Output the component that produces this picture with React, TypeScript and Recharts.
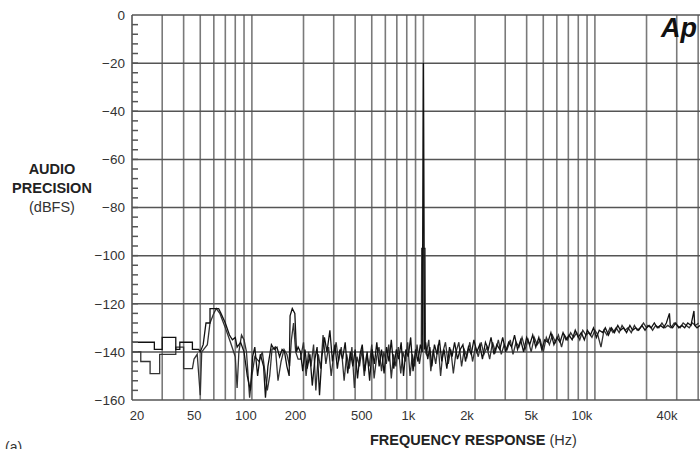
import { Line, LineChart, ReferenceLine, XAxis, YAxis } from "recharts";

// channel traces as [frequency Hz, level dBFS]
const lowA: [number, number][] = [
  [20, -136], [27, -136], [27, -139], [30, -139], [30, -134], [36, -134], [36, -139], [38, -139],
  [38, -136], [45, -136], [45, -139], [49, -139], [50, -140], [52, -137], [54, -128], [57, -128],
  [57, -122], [64, -122], [66, -124], [70, -128], [74, -133], [77, -135], [80, -134], [82, -138],
  [86, -136], [90, -140], [94, -150], [98, -156], [101, -142], [104, -138], [108, -150], [112, -141],
  [117, -146], [120, -159], [124, -146], [130, -137], [135, -139], [140, -138], [145, -142], [150, -139],
  [155, -140], [160, -146], [165, -150], [167, -125], [172, -122], [178, -124], [182, -140], [186, -138],
];

const midA: [number, number][] = [
  [192, -140], [198, -148], [204, -139], [210, -147], [218, -141], [225, -154], [233, -143], [240, -138],
  [248, -158], [256, -142], [265, -134], [274, -140], [285, -131], [295, -144], [305, -137], [315, -147],
  [326, -139], [338, -143], [350, -136], [362, -149], [375, -140], [388, -146], [400, -139], [413, -151],
  [427, -141], [440, -137], [455, -148], [470, -140], [486, -152], [502, -139], [518, -145], [535, -136],
  [552, -146], [570, -139], [590, -149], [610, -138], [630, -144], [650, -135], [672, -147], [695, -139],
  [718, -143], [742, -136], [766, -150], [790, -139], [816, -142], [843, -134], [870, -148], [900, -139],
  [930, -144], [960, -137], [985, -140], [995, -60], [1000, -20], [1005, -60], [1015, -139],
];

const highA: [number, number][] = [
  [1030, -136], [1060, -143], [1090, -138], [1120, -146], [1160, -137], [1200, -141], [1240, -135],
  [1280, -144], [1320, -139], [1370, -147], [1420, -138], [1470, -142], [1520, -136], [1580, -143],
  [1640, -139], [1700, -137], [1760, -144], [1830, -138], [1900, -141], [1970, -135], [2050, -140],
  [2130, -137], [2210, -143], [2300, -136], [2390, -139], [2480, -134], [2580, -141], [2680, -137],
  [2790, -139], [2900, -134], [3020, -140], [3140, -136], [3270, -138], [3400, -133], [3540, -139],
  [3690, -135], [3840, -140], [4000, -134], [4170, -137], [4340, -133], [4520, -138], [4710, -134],
  [4900, -139], [5100, -135], [5320, -136], [5540, -132], [5770, -137], [6010, -134], [6260, -136],
  [6520, -132], [6790, -135], [7070, -133], [7370, -135], [7680, -131], [8000, -134], [8330, -132],
  [8680, -135], [9040, -131], [9420, -133], [9810, -130], [10200, -134], [10600, -131], [11100, -132],
  [11500, -130], [12000, -133], [12500, -130], [13000, -132], [13600, -129], [14100, -131], [14700, -130],
  [15300, -132], [16000, -129], [16600, -131], [17300, -130], [18000, -131], [18800, -129], [19600, -131],
  [20400, -129], [21300, -130], [22200, -128], [23100, -130], [24100, -129], [25100, -130], [26100, -128],
  [27200, -124], [27500, -129], [28400, -130], [29600, -128], [30800, -130], [32100, -129], [33400, -130],
  [34800, -128], [36300, -129], [37800, -123], [38200, -129], [39400, -130], [41000, -129],
];

const lowB: [number, number][] = [
  [20, -140], [22.5, -140], [22.5, -144], [25.5, -144], [25.5, -149], [29, -149], [29, -141], [36, -141],
  [36, -138], [40, -138], [40, -147], [45, -147], [46, -143], [48, -141], [50, -158], [51, -140],
  [55, -137], [57, -128], [60, -124], [62, -122], [65, -124], [70, -130], [75, -136], [80, -142],
  [82, -155], [84, -140], [87, -133], [90, -135], [93, -140], [97, -159], [100, -150], [104, -142],
  [110, -144], [115, -140], [119, -148], [123, -156], [127, -150], [131, -139], [137, -138], [142, -152],
  [148, -144], [154, -139], [160, -141], [166, -146], [170, -135], [175, -128], [180, -140], [186, -143],
];

const midB: [number, number][] = [
  [192, -143], [200, -136], [207, -150], [214, -140], [221, -146], [229, -137], [236, -156], [244, -141],
  [252, -147], [260, -133], [270, -145], [280, -138], [290, -150], [300, -141], [310, -136], [320, -144],
  [332, -138], [345, -152], [357, -141], [370, -147], [383, -138], [396, -155], [410, -142], [424, -146],
  [438, -139], [452, -150], [467, -141], [483, -146], [500, -137], [516, -151], [534, -142], [551, -138],
  [570, -148], [588, -140], [608, -145], [628, -137], [650, -151], [670, -141], [692, -146], [714, -138],
  [738, -149], [760, -140], [785, -144], [810, -136], [836, -150], [862, -141], [890, -146], [918, -137],
  [948, -145], [972, -140], [978, -97], [1022, -97], [1028, -140],
];

const highB: [number, number][] = [
  [1040, -141], [1075, -135], [1105, -148], [1140, -139], [1180, -145], [1220, -137], [1260, -150],
  [1300, -140], [1345, -136], [1395, -145], [1445, -139], [1495, -149], [1550, -140], [1610, -136],
  [1670, -146], [1730, -139], [1795, -142], [1865, -136], [1935, -144], [2010, -138], [2090, -142],
  [2170, -136], [2255, -141], [2345, -138], [2435, -143], [2530, -136], [2630, -140], [2735, -135],
  [2845, -141], [2960, -137], [3080, -139], [3210, -135], [3330, -141], [3470, -136], [3610, -138],
  [3760, -134], [3920, -139], [4080, -135], [4250, -140], [4430, -134], [4610, -137], [4800, -135],
  [5000, -140], [5210, -134], [5430, -137], [5650, -133], [5890, -136], [6130, -133], [6390, -138],
  [6650, -133], [6930, -135], [7220, -132], [7520, -134], [7830, -132], [8160, -135], [8500, -131],
  [8860, -133], [9230, -132], [9610, -134], [10000, -131], [10400, -133], [10850, -138], [11300, -131],
  [11750, -133], [12250, -130], [12750, -132], [13300, -130], [13850, -132], [14400, -129], [15000, -131],
  [15600, -130], [16300, -132], [17000, -129], [17650, -131], [18400, -130], [19200, -128], [20000, -130],
  [20800, -129], [21700, -131], [22600, -129], [23600, -130], [24600, -128], [25600, -130], [26600, -129],
  [27800, -130], [29000, -128], [30200, -129], [31400, -130], [32700, -128], [34100, -129], [35500, -130],
  [37000, -128], [38600, -129], [40200, -128],
];

const xTicks = [20, 50, 100, 200, 500, 1000, 2000, 5000, 10000, 20000, 40000];
const xGrid = [
  30, 40, 50, 60, 70, 80, 90, 100, 200, 300, 400, 500, 600, 700, 800, 900,
  1000, 2000, 3000, 4000, 5000, 6000, 7000, 8000, 9000, 10000, 20000, 30000, 40000,
];
const yGrid = [0, -20, -40, -60, -80, -100, -120, -140, -160];
const yMinor = [
  0, -4, -8, -12, -16, -20, -24, -28, -32, -36, -40, -44, -48, -52, -56, -60, -64, -68, -72, -76, -80,
  -84, -88, -92, -96, -100, -104, -108, -112, -116, -120, -124, -128, -132, -136, -140, -144, -148,
  -152, -156, -160,
];

// the printed labels sit a little left of their grid lines
const labelNudge: Record<number, number> = {
  20: 5, 50: -6, 100: -6, 200: -8, 500: -10, 1000: -15, 2000: -8, 5000: -12, 10000: -13, 20000: -15, 40000: -13,
};

const toRows = (pts: [number, number][]) => pts.map(([f, db]) => ({ f, db }));
const chanA = toRows([...lowA, ...midA, ...highA]);
const chanB = toRows([...lowB, ...midB, ...highB]);

const font = "'Liberation Sans', Arial, sans-serif";

const fmtHz = (v: number) => (v >= 1000 ? `${v / 1000}k` : `${v}`);

function XTick({ x, y, payload }: any) {
  const v = payload.value as number;
  return (
    <text x={x + (labelNudge[v] ?? 0)} y={y + 20} textAnchor="middle" fontSize={13} fill="#333" fontFamily={font}>
      {fmtHz(v)}
    </text>
  );
}

function YTick({ x, y, payload }: any) {
  const v = payload.value as number;
  const major = v % 20 === 0;
  return (
    <g>
      {v !== 0 && v !== -160 && <line x1={x + 7} x2={x + 13} y1={y} y2={y} stroke="#555" strokeWidth={1.5} />}
      {major && (
        <text x={x} y={y} dy="0.36em" textAnchor="end" fontSize={13.5} fill="#333" fontFamily={font}>
          {v === 0 ? "0" : `\u2212${Math.abs(v)}`}
        </text>
      )}
    </g>
  );
}

export default function App() {
  return (
    <div style={{ position: "absolute", left: 0, top: 0, width: 700, height: 449, background: "#fff", overflow: "hidden" }}>
      <LineChart width={700} height={449} margin={{ top: 15, right: 0, left: 0, bottom: 18 }}>
        <XAxis
          dataKey="f"
          type="number"
          scale="log"
          domain={[20, 41000]}
          allowDataOverflow
          ticks={xTicks}
          tick={<XTick />}
          axisLine={false}
          tickLine={false}
          tickSize={0}
          tickMargin={0}
          height={31}
        />
        <YAxis
          type="number"
          domain={[-160, 0]}
          ticks={yMinor}
          interval={0}
          tick={<YTick />}
          axisLine={false}
          tickLine={false}
          tickSize={0}
          tickMargin={7}
          width={132}
        />
        {xGrid.map((v) => (
          <ReferenceLine key={`x${v}`} x={v} stroke="#7a7a7a" strokeWidth={1.6} />
        ))}
        <ReferenceLine x={20} stroke="#555" strokeWidth={1.6} />
        {yGrid.map((v) => (
          <ReferenceLine key={`y${v}`} y={v} stroke="#555" strokeWidth={1.5} />
        ))}
        <Line
          data={chanB}
          dataKey="db"
          stroke="#333"
          strokeWidth={1.3}
          dot={false}
          isAnimationActive={false}
        />
        <Line
          data={chanA}
          dataKey="db"
          stroke="#111"
          strokeWidth={1.3}
          dot={false}
          isAnimationActive={false}
        />
      </LineChart>

      <div style={{ position: "absolute", left: 0, width: 104, top: 160, textAlign: "center", fontFamily: font, color: "#222", lineHeight: "19px" }}>
        <div style={{ fontWeight: 700, fontSize: 14.5 }}>AUDIO</div>
        <div style={{ fontWeight: 700, fontSize: 14.5 }}>PRECISION</div>
        <div style={{ fontSize: 14.5, color: "#333" }}>(dBFS)</div>
      </div>

      <div style={{ position: "absolute", left: 370, top: 432, fontFamily: font, fontSize: 14.5, color: "#222", whiteSpace: "nowrap" }}>
        <span style={{ fontWeight: 700 }}>FREQUENCY RESPONSE</span> <span style={{ color: "#333" }}>(Hz)</span>
      </div>

      <div style={{ position: "absolute", left: 661, top: 13, fontFamily: font, fontSize: 27, fontWeight: 700, fontStyle: "italic", color: "#111", lineHeight: "30px" }}>
        Ap
      </div>

      <div style={{ position: "absolute", left: 5, top: 439, fontFamily: font, fontSize: 14, color: "#333" }}>(a)</div>
    </div>
  );
}
